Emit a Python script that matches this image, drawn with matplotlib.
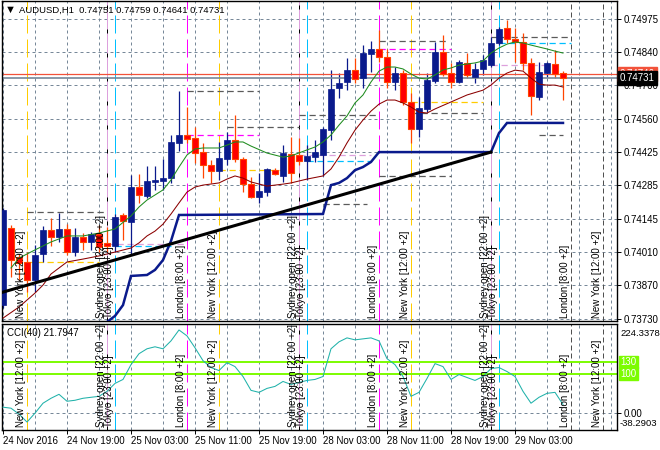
import numpy as np
import matplotlib.pyplot as plt

plt.rcParams['font.family'] = ['Liberation Sans', 'DejaVu Sans']
plt.rcParams['font.size'] = 7

# AUDUSD H1, bar 0 = 24 Nov 11:00
opens = [0.73788, 0.74108, 0.73987, 0.73967, 0.73892, 0.74000, 0.74099, 0.74070, 0.74104, 0.74008,
         0.74070, 0.74050, 0.74083, 0.74046, 0.74033, 0.74162, 0.74133, 0.74278, 0.74241, 0.74299,
         0.74303, 0.74315, 0.74461, 0.74494, 0.74481, 0.74423, 0.74369, 0.74344, 0.74394, 0.74473,
         0.74394, 0.74290, 0.74236, 0.74257, 0.74348, 0.74324, 0.74415, 0.74411, 0.74386, 0.74402,
         0.74411, 0.74514, 0.74689, 0.74714, 0.74763, 0.74730, 0.74830, 0.74851, 0.74817, 0.74714,
         0.74751, 0.74631, 0.74519, 0.74602, 0.74718, 0.74838, 0.74751, 0.74714, 0.74793, 0.74734,
         0.74768, 0.74784, 0.74876, 0.74938, 0.74892, 0.74880, 0.74793, 0.74651, 0.74751, 0.74788,
         0.74751]
highs = [0.74191, 0.74120, 0.74000, 0.74008, 0.74037, 0.74116, 0.74149, 0.74170, 0.74124, 0.74108,
         0.74087, 0.74091, 0.74120, 0.74112, 0.74166, 0.74170, 0.74328, 0.74332, 0.74365, 0.74365,
         0.74394, 0.74494, 0.74676, 0.74610, 0.74527, 0.74461, 0.74390, 0.74465, 0.74506, 0.74577,
         0.74402, 0.74319, 0.74336, 0.74357, 0.74357, 0.74452, 0.74485, 0.74481, 0.74452, 0.74473,
         0.74527, 0.74763, 0.74751, 0.74813, 0.74813, 0.74867, 0.74884, 0.74929, 0.74851, 0.74776,
         0.74763, 0.74668, 0.74651, 0.74751, 0.74880, 0.74909, 0.74793, 0.74805, 0.74834, 0.74793,
         0.74826, 0.74900, 0.74942, 0.74971, 0.74938, 0.74917, 0.74813, 0.74797, 0.74797, 0.74846,
         0.74759]
lows = [0.73776, 0.73904, 0.73892, 0.73842, 0.73842, 0.73967, 0.74033, 0.74050, 0.73996, 0.73992,
        0.74016, 0.74016, 0.74008, 0.74008, 0.74008, 0.74058, 0.73996, 0.74212, 0.74232, 0.74265,
        0.74265, 0.74295, 0.74427, 0.74461, 0.74378, 0.74315, 0.74295, 0.74307, 0.74369, 0.74382,
        0.74257, 0.74232, 0.74212, 0.74241, 0.74328, 0.74299, 0.74295, 0.74369, 0.74307, 0.74382,
        0.74324, 0.74473, 0.74647, 0.74680, 0.74710, 0.74689, 0.74755, 0.74797, 0.74689, 0.74680,
        0.74618, 0.74461, 0.74485, 0.74589, 0.74710, 0.74739, 0.74689, 0.74710, 0.74730, 0.74710,
        0.74743, 0.74776, 0.74867, 0.74876, 0.74797, 0.74763, 0.74577, 0.74639, 0.74734, 0.74730,
        0.74641]
closes = [0.74182, 0.73975, 0.73963, 0.73892, 0.73996, 0.74099, 0.74070, 0.74104, 0.74008, 0.74070,
          0.74050, 0.74083, 0.74029, 0.74033, 0.74153, 0.74137, 0.74278, 0.74245, 0.74303, 0.74307,
          0.74315, 0.74465, 0.74494, 0.74477, 0.74419, 0.74369, 0.74344, 0.74398, 0.74473, 0.74394,
          0.74290, 0.74236, 0.74261, 0.74353, 0.74332, 0.74419, 0.74336, 0.74386, 0.74407, 0.74423,
          0.74519, 0.74685, 0.74710, 0.74763, 0.74726, 0.74834, 0.74851, 0.74817, 0.74714, 0.74751,
          0.74631, 0.74519, 0.74606, 0.74722, 0.74838, 0.74747, 0.74714, 0.74797, 0.74743, 0.74768,
          0.74805, 0.74876, 0.74934, 0.74892, 0.74880, 0.74793, 0.74656, 0.74755, 0.74793, 0.74747,
          0.74731]

# moving averages (read where visible)
ma_fast_bars = [1, 2, 4, 6, 8, 10, 12, 14, 16, 17, 18, 20, 21, 22, 23, 24, 25, 27, 28, 29, 30, 31, 33, 35,
                36, 38, 39, 40, 41, 42, 43, 44, 45, 46, 47, 48, 49, 50, 51, 52, 53, 54, 55, 56, 57, 59,
                60, 61, 62, 63, 64, 65, 66, 68, 69, 70]
ma_fast = [0.73942, 0.73983, 0.74017, 0.74050, 0.74075, 0.74075, 0.74087, 0.74104, 0.74158, 0.74195,
           0.74224, 0.74266, 0.74307, 0.74361, 0.74411, 0.74436, 0.74440, 0.74440, 0.74452, 0.74465,
           0.74465, 0.74448, 0.74419, 0.74402, 0.74407, 0.74432, 0.74444, 0.74465, 0.74494, 0.74535,
           0.74573, 0.74627, 0.74660, 0.74714, 0.74759, 0.74776, 0.74776, 0.74768, 0.74747, 0.74730,
           0.74726, 0.74743, 0.74764, 0.74772, 0.74784, 0.74793, 0.74801, 0.74834, 0.74855, 0.74871,
           0.74880, 0.74876, 0.74867, 0.74851, 0.74842, 0.74834]
ma_slow_bars = [0, 2, 4, 5, 6, 8, 10, 12, 14, 16, 17, 18, 19, 20, 21, 22, 23, 24, 25, 27, 28, 29, 30, 31,
                33, 35, 36, 38, 40, 41, 42, 43, 44, 45, 46, 47, 48, 49, 50, 51, 52, 53, 54, 56, 58, 60,
                61, 62, 63, 64, 65, 66, 67, 68, 69, 70]
ma_slow = [0.73734, 0.73780, 0.73838, 0.73871, 0.73917, 0.73967, 0.73979, 0.73992, 0.74008, 0.74025,
           0.74046, 0.74075, 0.74095, 0.74124, 0.74166, 0.74212, 0.74257, 0.74278, 0.74286, 0.74295,
           0.74311, 0.74324, 0.74315, 0.74299, 0.74282, 0.74290, 0.74295, 0.74311, 0.74324, 0.74353,
           0.74402, 0.74461, 0.74514, 0.74556, 0.74593, 0.74622, 0.74639, 0.74639, 0.74627, 0.74610,
           0.74589, 0.74585, 0.74602, 0.74631, 0.74660, 0.74680, 0.74701, 0.74730, 0.74751, 0.74763,
           0.74759, 0.74730, 0.74705, 0.74701, 0.74701, 0.74693]

# stepped trailing line and trendline
trail_bars = [13, 14, 15, 16, 18, 19, 20, 21, 22, 40, 41, 42, 43, 44, 45, 46, 47, 61, 62, 63, 70]
trail = [0.73718, 0.73743, 0.73788, 0.73909, 0.73913, 0.73934, 0.73975, 0.74054, 0.74162, 0.74166,
         0.74286, 0.74295, 0.74315, 0.74348, 0.74361, 0.74382, 0.74423, 0.74423, 0.74502, 0.74544,
         0.74544]
trend_bars = [0, 61]
trend = [0.73842, 0.74423]

cci = [14.8, 12.2, -2.9, -23.1, -0.4, 24.9, 37.5, 47.6, 29.9, 32.4, 37.5, 40.0, 42.5, 55.2, 75.4,
       85.5, 123.3, 151.1, 163.7, 168.8, 163.7, 183.9, 211.7, 196.6, 166.3, 133.4, 115.8, 108.2,
       128.4, 118.3, 93.0, 57.7, 52.6, 62.7, 67.8, 80.4, 72.8, 77.9, 83.0, 85.5, 93.0, 163.7, 181.4,
       191.5, 186.5, 189.0, 191.5, 183.9, 138.5, 123.3, 93.0, 42.5, 52.6, 88.0, 125.9, 118.3, 85.5,
       98.1, 90.5, 83.0, 93.0, 113.2, 115.8, 105.7, 93.0, 55.2, 24.9, 40.0, 50.1, 52.6, 21.79]
cci_levels = [130, 100]

price_ticks = [0.73730, 0.73870, 0.74010, 0.74145, 0.74285, 0.74425, 0.74560, 0.74700, 0.74840, 0.74975]
time_tick_bars = [0, 8, 16, 24, 32, 40, 48, 56, 64]
time_labels = ['24 Nov 2016', '24 Nov 19:00', '25 Nov 03:00', '25 Nov 11:00', '25 Nov 19:00',
               '28 Nov 03:00', '28 Nov 11:00', '28 Nov 19:00', '29 Nov 03:00']
bid = 0.74731
alert_level = 0.74746

# session markers (bar index)
ny_bars = [3, 27, 51]
london_bars = [23, 47]
sydney_bars = [13, 37, 61]
tokyo_bars = [14, 38, 62]
future_london = [71]
future_ny = [75]

# session high/low marks: (from bar, to bar, price)
seg_gray = [(3, 13, 0.74174), (23, 32, 0.74676), (28, 37, 0.74527), (37, 47, 0.74577),
            (40, 45.5, 0.74207), (47, 55.5, 0.74884), (47, 56, 0.74324), (51, 60, 0.74585),
            (61, 71, 0.74900), (67, 70, 0.74494)]
seg_yellow = [(3, 12, 0.73967), (27, 35.5, 0.74348), (51, 60, 0.74631)]
seg_magenta = [(23, 32, 0.74494), (47, 56, 0.74851)]
seg_plum = [(13, 23, 0.74041), (37, 46, 0.74411), (61, 68.5, 0.74784)]
seg_cyan = [(14, 21, 0.74033), (38, 46, 0.74386), (62, 71, 0.74876)]

W, H = 660, 450
BULL = '#0a1a8c'
GRID = '#778899'
DASH = (0, (18, 6))

fig = plt.figure(figsize=(W / 100, H / 100), dpi=100)
ax = fig.add_axes([2 / W, (H - 321) / H, 615 / W, 320 / H])
ax2 = fig.add_axes([2 / W, (H - 430) / H, 615 / W, 106 / H])

for a in (ax, ax2):
    a.set_xlim(-0.125, 76.75)
    for s in a.spines.values():
        s.set_color('black')
        s.set_linewidth(1)
    for x in range(0, 77, 4):
        a.axvline(x, color=GRID, lw=0.72, ls=(0, (3, 3)), zorder=0)
    for x in ny_bars:
        a.axvline(x, color='#FFCC00', lw=0.72, ls=DASH, zorder=1)
    for x in london_bars:
        a.axvline(x, color='#FF00FF', lw=0.72, ls=DASH, zorder=1)
    for x in sydney_bars:
        a.axvline(x, color='#DDA0DD', lw=0.72, zorder=1)
        a.axvline(x, color='black', lw=0.72, ls=(0, (4, 20)), zorder=1)
    for x in tokyo_bars:
        a.axvline(x, color='#00BFFF', lw=0.72, ls=DASH, zorder=1)
    for x in future_london + future_ny:
        a.axvline(x, color='#505050', lw=0.72, ls=(0, (5, 3)), zorder=1)

    labels = ([(x, 'New York [12:00 +2]') for x in ny_bars + future_ny] +
              [(x, 'London [8:00 +2]') for x in london_bars + future_london] +
              [(x, 'Sydney open [22:00 +2]') for x in sydney_bars] +
              [(x, 'Tokyo [23:00 +2]') for x in tokyo_bars])
    for x, txt in labels:
        a.annotate(txt, xy=(x, 0), xycoords=('data', 'axes fraction'), xytext=(-1, 3),
                   textcoords='offset pixels', rotation=90, ha='right', va='bottom',
                   fontsize=7, zorder=6)

# main panel
ax.set_ylim(0.73722, 0.75050)
ax.set_xticks([])
ax.set_yticks(price_ticks)
ax.set_yticklabels(['%.5f' % p for p in price_ticks])
ax.tick_params(axis='y', left=False, labelleft=False, right=True, labelright=True,
               length=3, width=0.7, pad=1.5, labelsize=7)
for p in price_ticks:
    ax.axhline(p, color=GRID, lw=0.72, ls=(0, (3, 3)), zorder=0)

for segs, col in [(seg_gray, '#5a5a5a'), (seg_yellow, '#FFCC00'), (seg_magenta, '#FF00FF'),
                  (seg_plum, '#DDA0DD'), (seg_cyan, '#00BFFF')]:
    for x0, x1, p in segs:
        ax.plot([x0, x1], [p, p], color=col, lw=0.9, ls=(0, (5, 3)), zorder=1.5)

bars = np.arange(len(opens))
o, h, l, c = map(np.array, (opens, highs, lows, closes))
up = c >= o
lo = np.minimum(o, c)
ht = np.maximum(np.abs(c - o), 0.00002)
ax.vlines(bars[up], l[up], h[up], color=BULL, lw=0.9, zorder=2)
ax.vlines(bars[~up], l[~up], h[~up], color='#FF4500', lw=0.9, zorder=2)
ax.bar(bars[up], ht[up], bottom=lo[up], width=0.65, color=BULL, edgecolor=BULL, lw=0.5, zorder=3)
ax.bar(bars[~up], ht[~up], bottom=lo[~up], width=0.65, color='#FF0000', edgecolor='#FF4500',
       lw=0.8, zorder=3)

ax.axhline(alert_level, color='#F2523A', lw=0.9, zorder=2.5)
ax.axhline(bid, color='#778899', lw=1.2, zorder=2.5)

ax.plot(ma_fast_bars, ma_fast, color='#1E8C1E', lw=0.75, zorder=4)
ax.plot(ma_slow_bars, ma_slow, color='#8B0000', lw=0.75, zorder=4)
ax.plot(trail_bars, trail, color=BULL, lw=1.8, zorder=4, solid_joinstyle='miter')
ax.plot(trend_bars, trend, color='black', lw=2.2, zorder=5)

ax.annotate('%.5f' % alert_level, xy=(1, alert_level), xycoords=('axes fraction', 'data'),
            xytext=(3, 0), textcoords='offset pixels', ha='left', va='center', color='white',
            fontsize=7, annotation_clip=False, zorder=7,
            bbox=dict(boxstyle='square,pad=0.2', fc='#F2523A', ec='#F2523A'))
ax.annotate('%.5f' % bid, xy=(1, bid), xycoords=('axes fraction', 'data'),
            xytext=(3, 0), textcoords='offset pixels', ha='left', va='center', color='white',
            fontsize=7, annotation_clip=False, zorder=8,
            bbox=dict(boxstyle='square,pad=0.2', fc='black', ec='black'))

fig.text(5 / W, 1 - 10 / H, '\u25bc', fontsize=8, va='center')
fig.text(19 / W, 1 - 10 / H, 'AUDUSD,H1  %.5f %.5f %.5f %.5f' % (opens[-1], highs[-1], lows[-1], closes[-1]),
         fontsize=6.8, va='center')

# CCI panel
ax2.set_ylim(-43.4, 226.9)
ax2.axhline(0, color=GRID, lw=0.72, ls=(0, (3, 3)), zorder=0)
for lev in cci_levels:
    ax2.axhline(lev, color='#7CFC00', lw=1.4, zorder=2)
    ax2.annotate(str(lev), xy=(1, lev), xycoords=('axes fraction', 'data'), xytext=(3, 0),
                 textcoords='offset pixels', ha='left', va='center', color='white', fontsize=7,
                 annotation_clip=False, bbox=dict(boxstyle='square,pad=0.15', fc='#7CFC00', ec='#7CFC00'))
ax2.plot(bars, cci, color='#20B2AA', lw=0.75, zorder=3)
ax2.set_yticks([0])
ax2.set_yticklabels(['0.00'])
ax2.tick_params(axis='y', left=False, labelleft=False, right=True, labelright=True,
                length=3, width=0.7, pad=1.5, labelsize=7)
ax2.annotate('224.3378', xy=(1, 1), xycoords='axes fraction', xytext=(3, -9),
             textcoords='offset pixels', ha='left', va='center', fontsize=6.8, annotation_clip=False)
ax2.annotate('-38.2903', xy=(1, 0), xycoords='axes fraction', xytext=(3, 6),
             textcoords='offset pixels', ha='left', va='center', fontsize=6.8, annotation_clip=False)
ax2.annotate('CCI(40) 21.7947', xy=(0, 1), xycoords='axes fraction',
             xytext=(5, -9), textcoords='offset pixels', ha='left', va='center', fontsize=7)

ax2.set_xticks(time_tick_bars)
ax2.set_xticklabels(time_labels, ha='left')
ax2.tick_params(axis='x', length=3, width=0.7, pad=1.5, labelsize=7)

fig.savefig('out.png', dpi=100)
